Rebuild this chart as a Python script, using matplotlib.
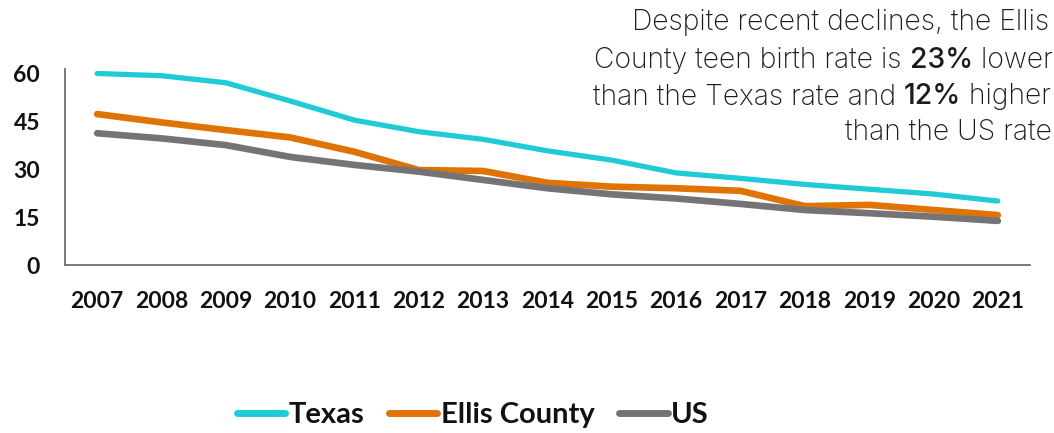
import matplotlib
matplotlib.use("Agg")
import matplotlib.pyplot as plt
from matplotlib.lines import Line2D

years = ["2007", "2008", "2009", "2010", "2011", "2012", "2013", "2014",
         "2015", "2016", "2017", "2018", "2019", "2020", "2021"]
texas = [59.9, 59.2, 57.0, 51.3, 45.3, 41.7, 39.3, 35.7, 32.8, 28.8, 27.1, 25.2, 23.7, 22.2, 20.0]
ellis = [47.2, 44.6, 42.2, 39.9, 35.4, 29.7, 29.4, 25.7, 24.5, 24.0, 23.2, 18.4, 18.8, 17.2, 15.6]
us = [41.2, 39.6, 37.5, 33.8, 31.3, 29.2, 26.6, 24.0, 22.1, 20.8, 19.1, 17.2, 16.2, 15.1, 13.8]
yticks = [0, 15, 30, 45, 60]
series_names = ["Texas", "Ellis County", "US"]
colors = ["#1fcbd5", "#e07306", "#747477"]

note_lines = [
    [("Despite recent declines, the Ellis", "light")],
    [("County teen birth rate is ", "light"), ("23%", "medium"), (" lower", "light")],
    [("than the Texas rate and ", "light"), ("12%", "medium"), (" higher", "light")],
    [("than the US rate", "light")],
]

W, H = 1054, 433
fig = plt.figure(figsize=(W / 100, H / 100), dpi=100)
ax = fig.add_axes([65 / W, 1 - 265 / H, (1030 - 65) / W, (265 - 69) / H])

x = list(range(len(years)))
lws = [3.8, 4.8, 4.8]
for vals, name, c, lw in zip([texas, ellis, us], series_names, colors, lws):
    ax.plot(x, vals, color=c, lw=lw, solid_capstyle="round", solid_joinstyle="round", label=name)

ax.set_xlim(-0.5, len(years) - 0.5)
ax.set_ylim(0, 61.3)
ax.set_xticks(x)
ax.set_xticklabels(years)
ax.set_yticks(yticks)
ax.set_yticklabels([str(v) for v in yticks])
for lab in ax.get_xticklabels() + ax.get_yticklabels():
    lab.set_fontfamily("Lato")
    lab.set_fontweight("bold")
    lab.set_fontsize(16.5)
    lab.set_color("#111111")
ax.tick_params(axis="both", length=0)
ax.tick_params(axis="x", pad=19)
ax.tick_params(axis="y", pad=18)
for s in ["top", "right"]:
    ax.spines[s].set_visible(False)
for s in ["left", "bottom"]:
    ax.spines[s].set_color("#6e6e6e")
    ax.spines[s].set_linewidth(1.3)

handles = [Line2D([0], [0], color=c, lw=5, solid_capstyle="round") for c in colors]
leg = fig.legend(handles, series_names, loc="center", bbox_to_anchor=(473 / W, 1 - 415 / H),
                 ncol=3, frameon=False, handlelength=1.65, handletextpad=0.12,
                 columnspacing=0.85, prop={"family": "Lato", "weight": "bold", "size": 21})
for t in leg.get_texts():
    t.set_color("#111111")

# annotation text with mixed weights (runs off the right edge, as in the reference)
renderer = fig.canvas.get_renderer()
probe = fig.text(0, 0, "than the Texas rate and 12% high", fontsize=10, family="Inter")
scale = 461 / probe.get_window_extent(renderer).width
probe.remove()
fs = 10 * scale * 0.97
line_y = [22, 60, 97, 132]
line_left = [632, 594, 593, 845]
for parts, yy, left in zip(note_lines, line_y, line_left):
    for txt, wt in parts:
        t = fig.text(left / W, 1 - yy / H, txt, fontsize=fs, family="Inter", weight=wt,
                     color="#1c1c1c", va="center", ha="left")
        left += t.get_window_extent(renderer).width

fig.savefig("out.png", dpi=100)
